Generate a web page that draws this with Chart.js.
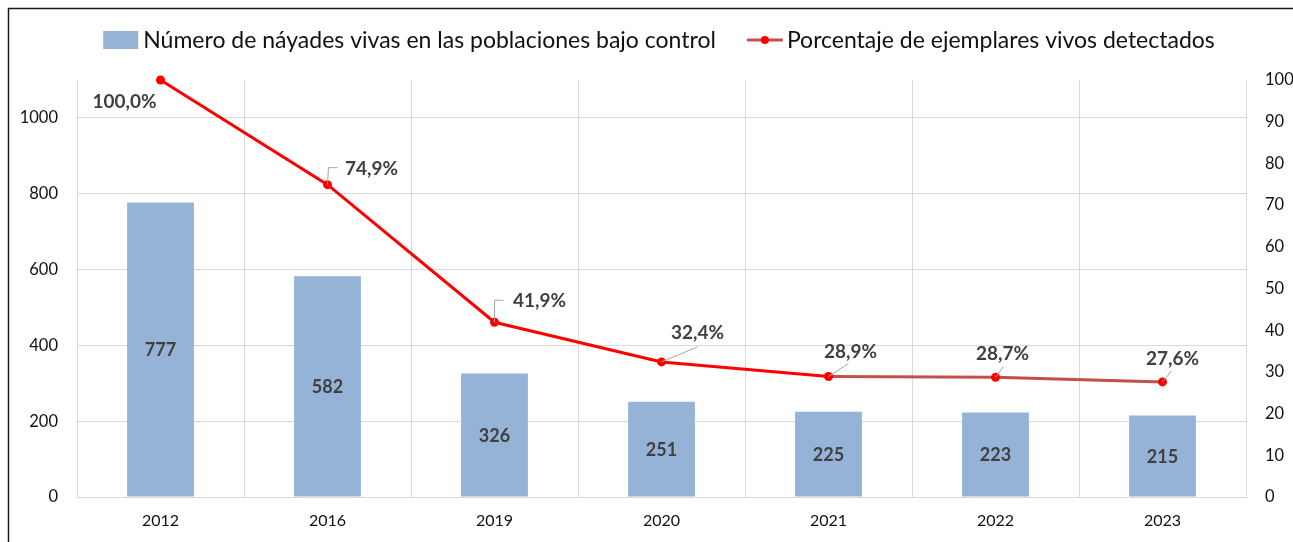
<!DOCTYPE html>
<html lang="es">
<head>
<meta charset="utf-8">
<title>Náyades vivas</title>
<script src="https://cdn.jsdelivr.net/npm/chart.js@4/dist/chart.umd.min.js"></script>
<style>
  html, body { margin: 0; padding: 0; background: #fff; overflow: hidden; }
  #wrap { position: relative; width: 1293px; height: 542px; }
  canvas { display: block; }
</style>
</head>
<body>
<div id="wrap"><canvas id="chart" width="1293" height="542"></canvas></div>
<script>
// Years surveyed
const years = ['2012', '2016', '2019', '2020', '2021', '2022', '2023'];
// Live mussels counted in the monitored populations
const liveCounts = [777, 582, 326, 251, 225, 223, 215];
// Share of live specimens detected (%)
const livePercent = [100.0, 74.9, 41.9, 32.4, 28.9, 28.7, 27.6];

const barLabel = 'Número de náyades vivas en las poblaciones bajo control';
const lineLabel = 'Porcentaje de ejemplares vivos detectados';

// Where each percentage label sits relative to its point (dx, dy) and
// the end of its leader line (null = no leader)
const labelOffsets = [[-36, 22], [44, -16], [45, -21], [36, -29], [22, -25], [7, -23], [10, -23]];
const leaderEnds = [null, [[1, -17], [10, -17]], [[0, -22], [9, -22]], [[36, -15]], [[20, -13]], [[8, -11]], [[9, -11]]];

const FONT = 'Lato, "Open Sans", sans-serif';
const BAR_COLOR = '#95B3D7';
const RED = '#FF0000';
const DARK_RED = '#C0504D';
const LABEL_COLOR = '#404040';
const GRID = '#D9D9D9';

const PLOT = { left: 77, right: 1246, top: 80, bottom: 497 };
const W = 1293, H = 542;

// Outer frame of the chart object
const framePlugin = {
  id: 'frame',
  beforeDraw(chart) {
    const c = chart.ctx;
    c.save();
    c.fillStyle = '#fff';
    c.fillRect(0, 0, W, H);
    c.strokeStyle = '#1a1a1a';
    c.lineWidth = 1.5;
    c.strokeRect(8.5, 8.5, W + 20, H + 20);
    c.restore();
  }
};

// Legend drawn at the top, centred over the plot
const legendPlugin = {
  id: 'topLegend',
  afterDraw(chart) {
    const c = chart.ctx;
    c.save();
    c.font = '23px ' + FONT;
    c.textBaseline = 'middle';
    const y = 40;
    const w1 = c.measureText(barLabel).width;
    const w2 = c.measureText(lineLabel).width;
    const gap = 31;
    const total = 35 + 5 + w1 + gap + 36 + 4 + w2;
    let x = 659 - total / 2;
    c.fillStyle = BAR_COLOR;
    c.fillRect(x, y - 9, 35, 18);
    x += 40;
    c.fillStyle = '#111';
    c.fillText(barLabel, x, y + 1);
    x += w1 + gap;
    c.strokeStyle = DARK_RED;
    c.lineWidth = 3;
    c.beginPath();
    c.moveTo(x, y);
    c.lineTo(x + 36, y);
    c.stroke();
    c.fillStyle = RED;
    c.beginPath();
    c.arc(x + 18, y, 4, 0, Math.PI * 2);
    c.fill();
    x += 40;
    c.fillStyle = '#111';
    c.fillText(lineLabel, x, y + 1);
    c.restore();
  }
};

// Value labels: counts centred inside bars, percentages beside points
const valueLabelPlugin = {
  id: 'valueLabels',
  afterDatasetsDraw(chart) {
    const c = chart.ctx;
    c.save();
    c.fillStyle = LABEL_COLOR;
    c.textAlign = 'center';
    c.textBaseline = 'middle';
    c.font = 'bold 18px ' + FONT;
    const bars = chart.getDatasetMeta(0).data;
    bars.forEach((bar, i) => {
      const mid = (bar.y + bar.base) / 2;
      c.fillText(String(liveCounts[i]), bar.x, mid + 1);
    });
    c.font = 'bold 19px ' + FONT;
    const pts = chart.getDatasetMeta(1).data;
    pts.forEach((pt, i) => {
      const leader = leaderEnds[i];
      if (leader) {
        c.strokeStyle = '#A6A6A6';
        c.lineWidth = 1;
        c.beginPath();
        c.moveTo(pt.x, pt.y);
        leader.forEach(([dx, dy]) => c.lineTo(pt.x + dx, pt.y + dy));
        c.stroke();
      }
      const [ox, oy] = labelOffsets[i];
      c.fillStyle = LABEL_COLOR;
      c.fillText(livePercent[i].toFixed(1).replace('.', ',') + '%', pt.x + ox, pt.y + oy);
    });
    c.restore();
  }
};

new Chart(document.getElementById('chart'), {
  data: {
    labels: years,
    datasets: [
      {
        type: 'bar',
        label: barLabel,
        data: liveCounts,
        backgroundColor: BAR_COLOR,
        yAxisID: 'y',
        barPercentage: 0.4,
        categoryPercentage: 1.0,
        order: 2
      },
      {
        type: 'line',
        label: lineLabel,
        data: livePercent,
        yAxisID: 'y1',
        borderColor: RED,
        borderWidth: 3,
        pointRadius: 4.5,
        pointBackgroundColor: RED,
        pointBorderWidth: 0,
        tension: 0,
        clip: false,
        segment: {
          borderColor: ctx => ctx.p0DataIndex >= 4 ? DARK_RED : RED
        },
        order: 1
      }
    ]
  },
  options: {
    responsive: false,
    animation: false,
    layout: { padding: { top: PLOT.top, left: 0, right: 0, bottom: 0 } },
    plugins: {
      legend: { display: false },
      tooltip: { enabled: false },
      title: { display: false }
    },
    scales: {
      x: {
        offset: true,
        grid: { offset: true, color: GRID, lineWidth: 1, drawTicks: false },
        border: { display: true, color: GRID },
        ticks: { color: '#111', font: { family: FONT, size: 16 }, padding: 14, maxRotation: 0 },
        afterFit(s) { s.height = H - PLOT.bottom; }
      },
      y: {
        position: 'left',
        min: 0,
        max: 1100,
        grid: {
          color: ctx => (ctx.tick && ctx.tick.value % 200 === 0 ? GRID : 'rgba(0,0,0,0)'),
          lineWidth: 1,
          drawTicks: false
        },
        border: { display: true, color: GRID },
        ticks: {
          stepSize: 200,
          padding: 19,
          color: '#111',
          font: { family: FONT, size: 16.5 },
          callback: v => (v % 200 === 0 ? String(v) : '')
        },
        afterFit(s) { s.width = PLOT.left; }
      },
      y1: {
        position: 'right',
        min: 0,
        max: 100,
        grid: { display: false, drawTicks: false },
        border: { display: true, color: GRID },
        ticks: { stepSize: 10, padding: 19, color: '#111', font: { family: FONT, size: 16.5 } },
        afterFit(s) { s.width = W - PLOT.right; }
      }
    }
  },
  plugins: [framePlugin, legendPlugin, valueLabelPlugin]
});
</script>
</body>
</html>
